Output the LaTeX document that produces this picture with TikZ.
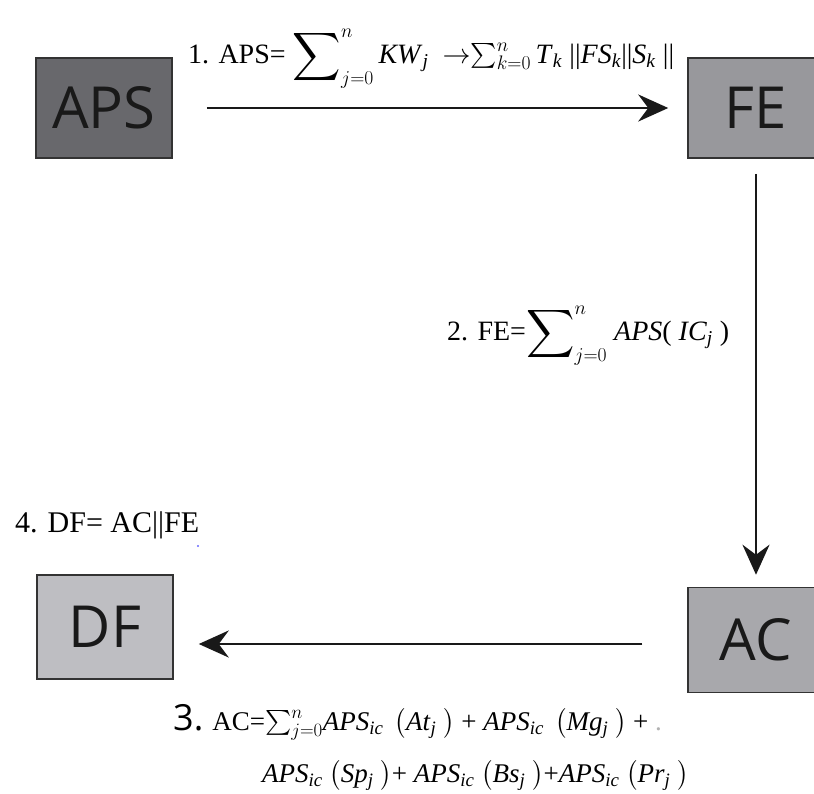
\RequirePackage{fix-cm}
\documentclass[tikz,border=0pt]{standalone}
\usepackage{fontspec}
\usepackage{amsmath}
\setmainfont{Liberation Serif}
\newfontfamily\boxfont{Open Sans}
\usetikzlibrary{arrows.meta, positioning}

\definecolor{apsgray}{HTML}{68686C}
\definecolor{fegray}{HTML}{98989C}
\definecolor{acgray}{HTML}{A8A8AC}
\definecolor{dfgray}{HTML}{BEBEC2}

% italic letters and subscripts in the text font
\newcommand{\vi}[1]{\textit{#1}}
\newcommand{\lowi}[1]{\textsubscript{\textit{#1}}}
\newcommand{\bigsigma}[2]{$\mathop{\raisebox{-3pt}{\scalebox{1.35}{$\displaystyle\sum$}}}\nolimits_{#1}^{#2}$}
\newcommand{\smallsigma}[2]{$\sum\nolimits_{#1}^{#2}$}

\begin{document}
\begin{tikzpicture}[x=1pt, y=-1pt,
    block/.style={draw=black!80, line width=1.5pt, minimum width=136pt, minimum height=100pt, inner sep=0pt, text=black!90, font=\boxfont\fontsize{58}{62}\selectfont},
    flow/.style={-{Stealth[length=30pt, width=27pt, inset=10pt]}, line width=2.8pt, black!90},
    eq/.style={inner sep=0pt, font=\fontsize{28}{32}\selectfont}]
    \clip (0,0) rectangle (814,793);

    % blocks
    \node[block, fill=apsgray] (aps) at (104,108) {APS};
    \node[block, fill=fegray] (fe) at (756,108) {FE};
    \node[block, fill=acgray, minimum height=105pt] (ac) at (756,640) {AC};
    \node[block, fill=dfgray, minimum height=104pt] (df) at (105,627) {DF};

    % arrows between blocks
    \draw[flow, shorten <=34pt, shorten >=19pt] (aps) -- (fe);
    \draw[flow, shorten <=15pt, shorten >=12pt] (fe) -- (ac);
    \coordinate (acout) at ([yshift=-4pt]ac.west);
    \draw[flow, shorten <=45pt, shorten >=25pt] (acout) -- (acout -| df.east);

    % equations
    \node[eq, anchor=base west] (eq1) at (188,63)
        {1. APS= \bigsigma{j=0}{n}\,\vi{KW}\lowi{j}\ \ $\rightarrow$\smallsigma{k=0}{n}\,\vi{T}\lowi{k}\ ||\vi{FS}\lowi{k}||\vi{S}\lowi{k}\ ||};
    \node[eq, anchor=base west] (eq2) at (447,340)
        {2. FE=\bigsigma{j=0}{n}\ \vi{APS}(\ \vi{IC}\lowi{j}\ )};
    \node[eq, anchor=base west, font=\fontsize{30}{34}\selectfont] (eq4) at (15,532) {4. DF= AC||FE};
    \node[eq, anchor=base west, font=\fontsize{27}{30}\selectfont] (eq3a) at (173,730)
        {{\boxfont\fontsize{36}{38}\selectfont 3.} AC=\smallsigma{j=0}{n}\vi{APS}\lowi{ic}\ \,$\big($\vi{At}\lowi{j}\ $\big)$\ + \vi{APS}\lowi{ic}\ \,$\big($\vi{Mg}\lowi{j}\ $\big)$\ + {\color{black!30}.}};
    \node[eq, anchor=base west, font=\fontsize{27}{30}\selectfont] (eq3b) at (262,782)
        {\vi{APS}\lowi{ic}\ $\big($\vi{Sp}\lowi{j}\ $\big)$+ \vi{APS}\lowi{ic}\ $\big($\vi{Bs}\lowi{j}\ $\big)$+\vi{APS}\lowi{ic}\ $\big($\vi{Pr}\lowi{j}\ $\big)$};

    % stray dot
    \fill[blue!60] (198,546) circle (1.2pt);
\end{tikzpicture}
\end{document}
